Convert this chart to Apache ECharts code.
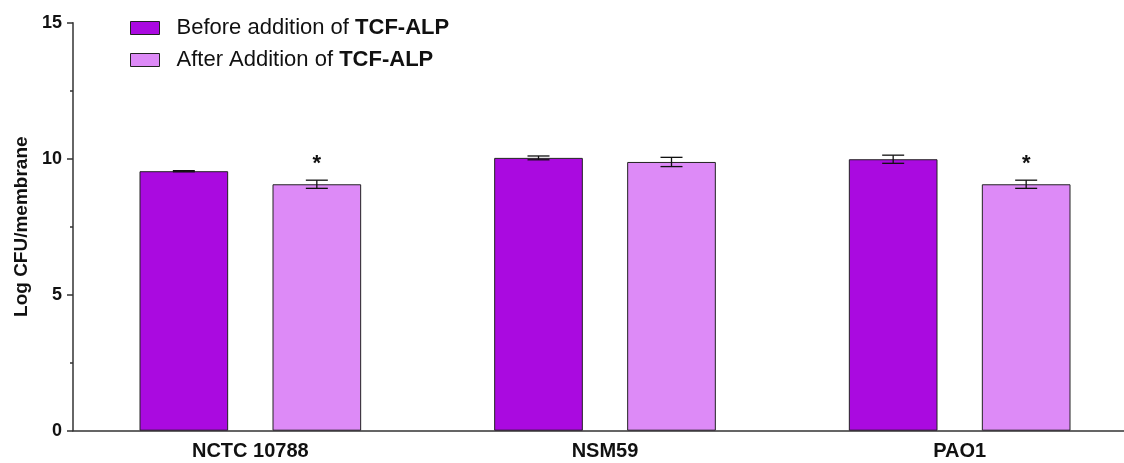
<!DOCTYPE html>
<html>
<head>
<meta charset="utf-8">
<script src="https://cdn.jsdelivr.net/npm/echarts@6/dist/echarts.min.js"></script>
<style>html,body{margin:0;padding:0;background:#fff;overflow:hidden}#c{width:1137px;height:463px}</style>
</head>
<body>
<div id="c"></div>
<script>
var categories = ['NCTC 10788', 'NSM59', 'PAO1'];
var beforeValues = [9.54, 10.03, 9.98];
var beforeErrors = [0.02, 0.07, 0.15];
var afterValues = [9.06, 9.88, 9.06];
var afterErrors = [0.15, 0.17, 0.15];
var afterStars = [true, false, true];
var yTicks = [0, 5, 10, 15];

var seriesNames = ['Before addition of TCF-ALP', 'After Addition of TCF-ALP'];
var colors = ['#AA0AE0', '#DD8AF7'];
var FONT = "'Liberation Sans', Arial, sans-serif";

function errData(vals, errs, stars) {
  return vals.map(function (v, i) { return [i, v, errs[i], stars ? (stars[i] ? 1 : 0) : 0]; });
}

function makeErr(offsetFrac) {
  return function (params, api) {
    var idx = api.value(0), v = api.value(1), e = api.value(2), star = api.value(3);
    var band = api.size([1, 0])[0];
    var c = api.coord([idx, v]);
    var x = c[0] + band * offsetFrac;
    var yTop = api.coord([idx, v + e])[1];
    var yBot = api.coord([idx, v - e])[1];
    var hw = 11;
    var st = { stroke: '#111', lineWidth: 1.3 };
    var children = [
      { type: 'line', shape: { x1: x, y1: yTop, x2: x, y2: yBot }, style: st },
      { type: 'line', shape: { x1: x - hw, y1: yTop, x2: x + hw, y2: yTop }, style: st },
      { type: 'line', shape: { x1: x - hw, y1: yBot, x2: x + hw, y2: yBot }, style: st }
    ];
    if (star) {
      children.push({ type: 'text', style: { text: '*', x: x, y: yTop - 16, fill: '#111', font: 'bold 22px ' + FONT, textAlign: 'center', textVerticalAlign: 'middle' } });
    }
    return { type: 'group', children: children };
  };
}

var chart = echarts.init(document.getElementById('c'));
chart.setOption({
  animation: false,
  backgroundColor: '#fff',
  grid: { left: 73, right: 0, top: 22.7, bottom: 32.3 },
  legend: {
    orient: 'vertical', left: 130, top: 17, padding: 0, icon: 'rect',
    itemWidth: 29, itemHeight: 13, itemGap: 10,
    data: seriesNames.map(function (n) { return { name: n, itemStyle: { borderColor: '#222', borderWidth: 1 } }; }),
    formatter: function (n) { return '{n|' + n.replace(' TCF-ALP', ' ') + '}{b|TCF-ALP}'; },
    textStyle: {
      fontFamily: FONT, fontSize: 22, color: '#111',
      rich: {
        n: { fontFamily: FONT, fontSize: 22, color: '#111', padding: [0, 0, 0, 12] },
        b: { fontFamily: FONT, fontSize: 22, color: '#111', fontWeight: 'bold' }
      }
    }
  },
  xAxis: {
    type: 'category', data: categories,
    axisLine: { lineStyle: { color: '#333', width: 1.5 } },
    axisTick: { alignWithLabel: true, length: 7, lineStyle: { color: '#333', width: 1.5 } },
    axisLabel: { fontFamily: FONT, fontSize: 20, fontWeight: 'bold', color: '#111', margin: 11 }
  },
  yAxis: {
    type: 'value', min: yTicks[0], max: yTicks[yTicks.length - 1], interval: 5,
    name: 'Log CFU/membrane', nameLocation: 'middle', nameGap: 42,
    nameTextStyle: { fontFamily: FONT, fontSize: 19, fontWeight: 'bold', color: '#111' },
    axisLine: { show: true, lineStyle: { color: '#333', width: 1.5 } },
    axisTick: { show: true, length: 6, lineStyle: { color: '#333', width: 1.5 } },
    minorTick: { show: true, splitNumber: 2, length: 3, lineStyle: { color: '#333', width: 1.5 } },
    splitLine: { show: false },
    axisLabel: { fontFamily: FONT, fontSize: 18, fontWeight: 'bold', color: '#111', margin: 11 }
  },
  series: [
    { name: seriesNames[0], type: 'bar', data: beforeValues, barWidth: '25%', barGap: '50%',
      itemStyle: { color: colors[0], borderColor: '#222', borderWidth: 1 } },
    { name: seriesNames[1], type: 'bar', data: afterValues, barWidth: '25%', barGap: '50%',
      itemStyle: { color: colors[1], borderColor: '#222', borderWidth: 1 } },
    { type: 'custom', renderItem: makeErr(-0.1875), data: errData(beforeValues, beforeErrors), z: 10, silent: true },
    { type: 'custom', renderItem: makeErr(0.1875), data: errData(afterValues, afterErrors, afterStars), z: 10, silent: true }
  ]
});
</script>
</body>
</html>
